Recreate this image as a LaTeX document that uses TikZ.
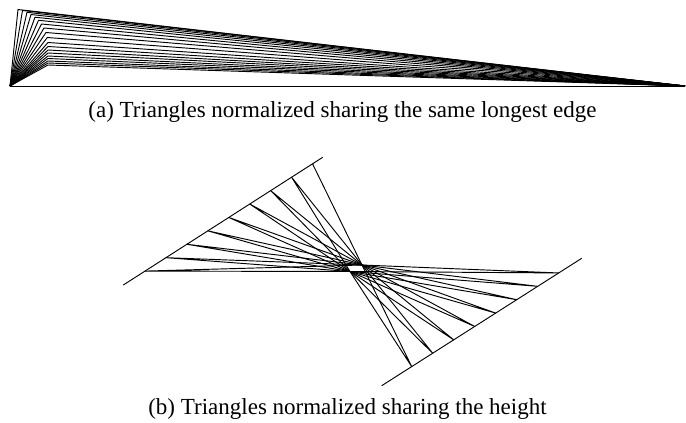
\documentclass[tikz,border=0pt]{standalone}
\usepackage{fontspec}
\setmainfont{Liberation Serif}
\usetikzlibrary{calc}
\begin{document}
\begin{tikzpicture}[x=0.75pt,y=-0.75pt,
  edge/.style={line width=0.7pt,black,line join=round},
  captext/.style={font=\fontsize{17.25pt}{20pt}\selectfont,inner sep=0pt,anchor=base}]
\useasboundingbox (0,0) rectangle (686,422);
% ---------- (a) ----------
\coordinate (O) at (10,86);
\coordinate (F) at (685,86);
\draw[edge] (O) -- (F);
\foreach \px/\py [count=\i] in {18/9.5,22.5/10.5,27/12.3,31/14.5,35/17.2,38.5/20.3,41.5/24,44/28,46/32.5,47.3/37.5,48/42.5,48/46.5,48/50,48/53,48/56,48/58.5,48/61,48/63,48/65}{
  \coordinate (A\i) at (\px,\py);
  \draw[edge] (O) -- (A\i) -- (F);
}
\node[captext] (capa) at (342.5,117.7) {(a) Triangles normalized sharing the same longest edge};
% ---------- (b) ----------
\coordinate (E1) at (350,271.5);
\coordinate (E2) at (362,265);
\coordinate (UL1) at (123.3,285);
\coordinate (UL2) at (322.7,157.3);
\coordinate (LL1) at (381.7,385.7);
\coordinate (LL2) at (581.7,258.3);
\draw[edge] (UL1) -- (UL2);
\draw[edge] (LL1) -- (LL2);
\foreach \t [count=\i] in {0.109,0.214,0.319,0.424,0.529,0.634,0.739,0.844}{
  \coordinate (P\i) at ($(UL1)!\t!(UL2)$);
  \draw[edge] (E1) -- (P\i) -- (E2);
}
\coordinate (P9) at ($(UL1)!0.949!(UL2)$);
\draw[edge] (P9) -- (E2);
\foreach \t [count=\i] in {0.15,0.255,0.36,0.465,0.57,0.675,0.78,0.885}{
  \coordinate (Q\i) at ($(LL1)!\t!(LL2)$);
  \draw[edge] (E1) -- (Q\i) -- (E2);
}
\node[captext] (capb) at (347.5,414.5) {(b) Triangles normalized sharing the height};
\end{tikzpicture}
\end{document}
